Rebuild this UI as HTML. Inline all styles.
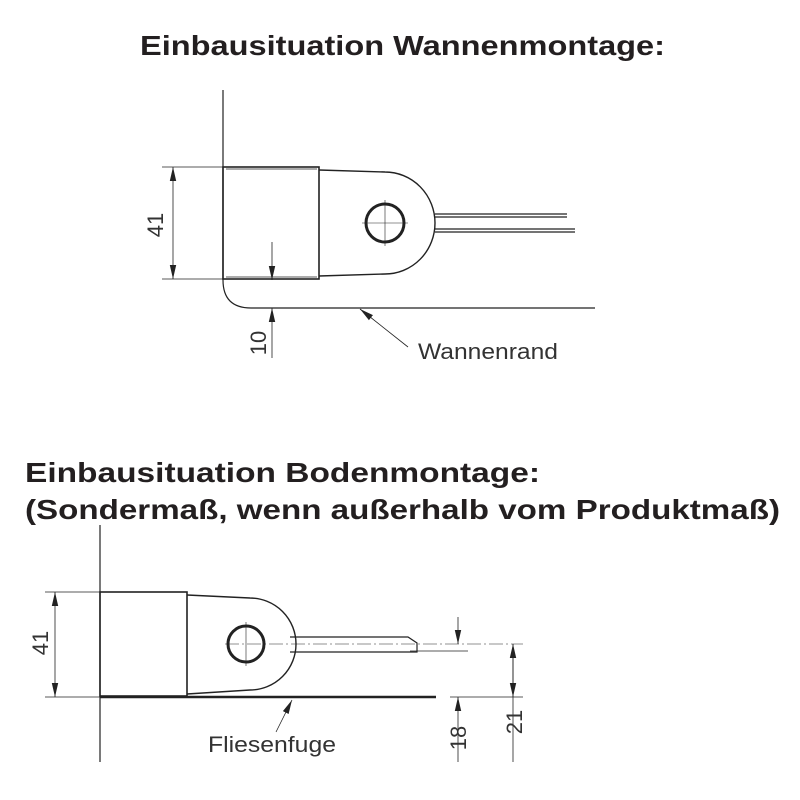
<!DOCTYPE html>
<html><head><meta charset="utf-8"><style>body{margin:0;background:#fff}svg{display:block}</style></head><body>
<svg width="800" height="800" viewBox="0 0 800 800" xmlns="http://www.w3.org/2000/svg" font-family="Liberation Sans, sans-serif">
<defs>
<marker id="a" viewBox="0 0 10 10" refX="10" refY="5" markerWidth="14" markerHeight="8" markerUnits="userSpaceOnUse" orient="auto-start-reverse" preserveAspectRatio="none"><path d="M0,1 L10,5 L0,9 z" fill="#222"/></marker>
</defs>
<g fill="#231f20" font-weight="bold" font-size="28">
<text x="140" y="55" textLength="525" lengthAdjust="spacingAndGlyphs">Einbausituation Wannenmontage:</text>
<text x="25" y="482" textLength="515" lengthAdjust="spacingAndGlyphs">Einbausituation Bodenmontage:</text>
<text x="25" y="519" textLength="755" lengthAdjust="spacingAndGlyphs">(Sondermaß, wenn außerhalb vom Produktmaß)</text>
</g>
<g stroke="#222" fill="none" stroke-width="1.2">
<!-- top -->
<line x1="223" y1="90" x2="223" y2="280"/>
<rect x="223" y="167" width="96" height="112" stroke-width="1.6"/>
<line x1="226" y1="169" x2="317" y2="169" stroke-width="0.8"/>
<line x1="226" y1="277" x2="317" y2="277" stroke-width="0.8"/>
<path d="M319,170 L385,172 A50,51 0 0 1 385,274 L319,276" stroke-width="1.4"/>
<circle cx="385" cy="223" r="19" stroke-width="3"/>
<line x1="362" y1="223" x2="408" y2="223" stroke-width="0.6"/>
<line x1="385" y1="200" x2="385" y2="246" stroke-width="0.6"/>
<line x1="435" y1="214" x2="567" y2="214"/><line x1="435" y1="217" x2="567" y2="217"/>
<line x1="435" y1="229" x2="575" y2="229"/><line x1="435" y1="232" x2="575" y2="232"/>
<line x1="162" y1="167" x2="223" y2="167" stroke-width="0.8"/>
<line x1="162" y1="279" x2="223" y2="279" stroke-width="0.8"/>
<line x1="173" y1="167" x2="173" y2="279" stroke-width="0.8" marker-start="url(#a)" marker-end="url(#a)"/>
<path d="M223,280 Q223,308 251,308 L595,308"/>
<line x1="272" y1="242" x2="272" y2="280" stroke-width="0.8" marker-end="url(#a)"/>
<line x1="272" y1="358" x2="272" y2="308" stroke-width="0.8" marker-end="url(#a)"/>
<line x1="408" y1="347" x2="360" y2="309" stroke-width="0.8" marker-end="url(#a)"/>
<!-- bottom -->
<line x1="100" y1="525" x2="100" y2="762"/>
<rect x="100" y="592" width="87" height="104" stroke-width="1.6"/>
<path d="M187,595 L250,598 A46,46 0 0 1 250,690 L187,694" stroke-width="1.4"/>
<circle cx="246" cy="644" r="18" stroke-width="3"/>
<line x1="246" y1="622" x2="246" y2="666" stroke-width="0.6"/>
<path d="M290,637 L408,637 L417,643 L417,652 L290,652"/>
<line x1="225" y1="644" x2="523" y2="644" stroke-width="0.6" stroke-dasharray="14,3,2,3"/>
<line x1="100" y1="697" x2="436" y2="697" stroke-width="2.5"/>
<line x1="45" y1="592" x2="100" y2="592" stroke-width="0.8"/>
<line x1="45" y1="697" x2="100" y2="697" stroke-width="0.8"/>
<line x1="55" y1="592" x2="55" y2="697" stroke-width="0.8" marker-start="url(#a)" marker-end="url(#a)"/>
<line x1="450" y1="697" x2="523" y2="697" stroke-width="0.8"/>
<line x1="410" y1="651" x2="468" y2="651" stroke-width="0.8"/>
<line x1="458" y1="617" x2="458" y2="644" stroke-width="0.8" marker-end="url(#a)"/>
<line x1="458" y1="762" x2="458" y2="697" stroke-width="0.8" marker-end="url(#a)"/>
<line x1="513" y1="697" x2="513" y2="644" stroke-width="0.8" marker-end="url(#a)"/>
<line x1="513" y1="644" x2="513" y2="697" stroke-width="0.8" marker-end="url(#a)"/>
<line x1="513" y1="697" x2="513" y2="762" stroke-width="0.8"/>
<line x1="276" y1="732" x2="292" y2="700" stroke-width="0.8" marker-end="url(#a)"/>
</g>
<g fill="#333" font-size="22">
<text x="418" y="359" textLength="140" lengthAdjust="spacingAndGlyphs">Wannenrand</text>
<text x="208" y="752" textLength="128" lengthAdjust="spacingAndGlyphs">Fliesenfuge</text>
<text transform="translate(163,225) rotate(-90)" text-anchor="middle">41</text>
<text transform="translate(266,343) rotate(-90)" text-anchor="middle">10</text>
<text transform="translate(48,643) rotate(-90)" text-anchor="middle">41</text>
<text transform="translate(466,738) rotate(-90)" text-anchor="middle">18</text>
<text transform="translate(522,722) rotate(-90)" text-anchor="middle">21</text>
</g>
</svg>
</body></html>
